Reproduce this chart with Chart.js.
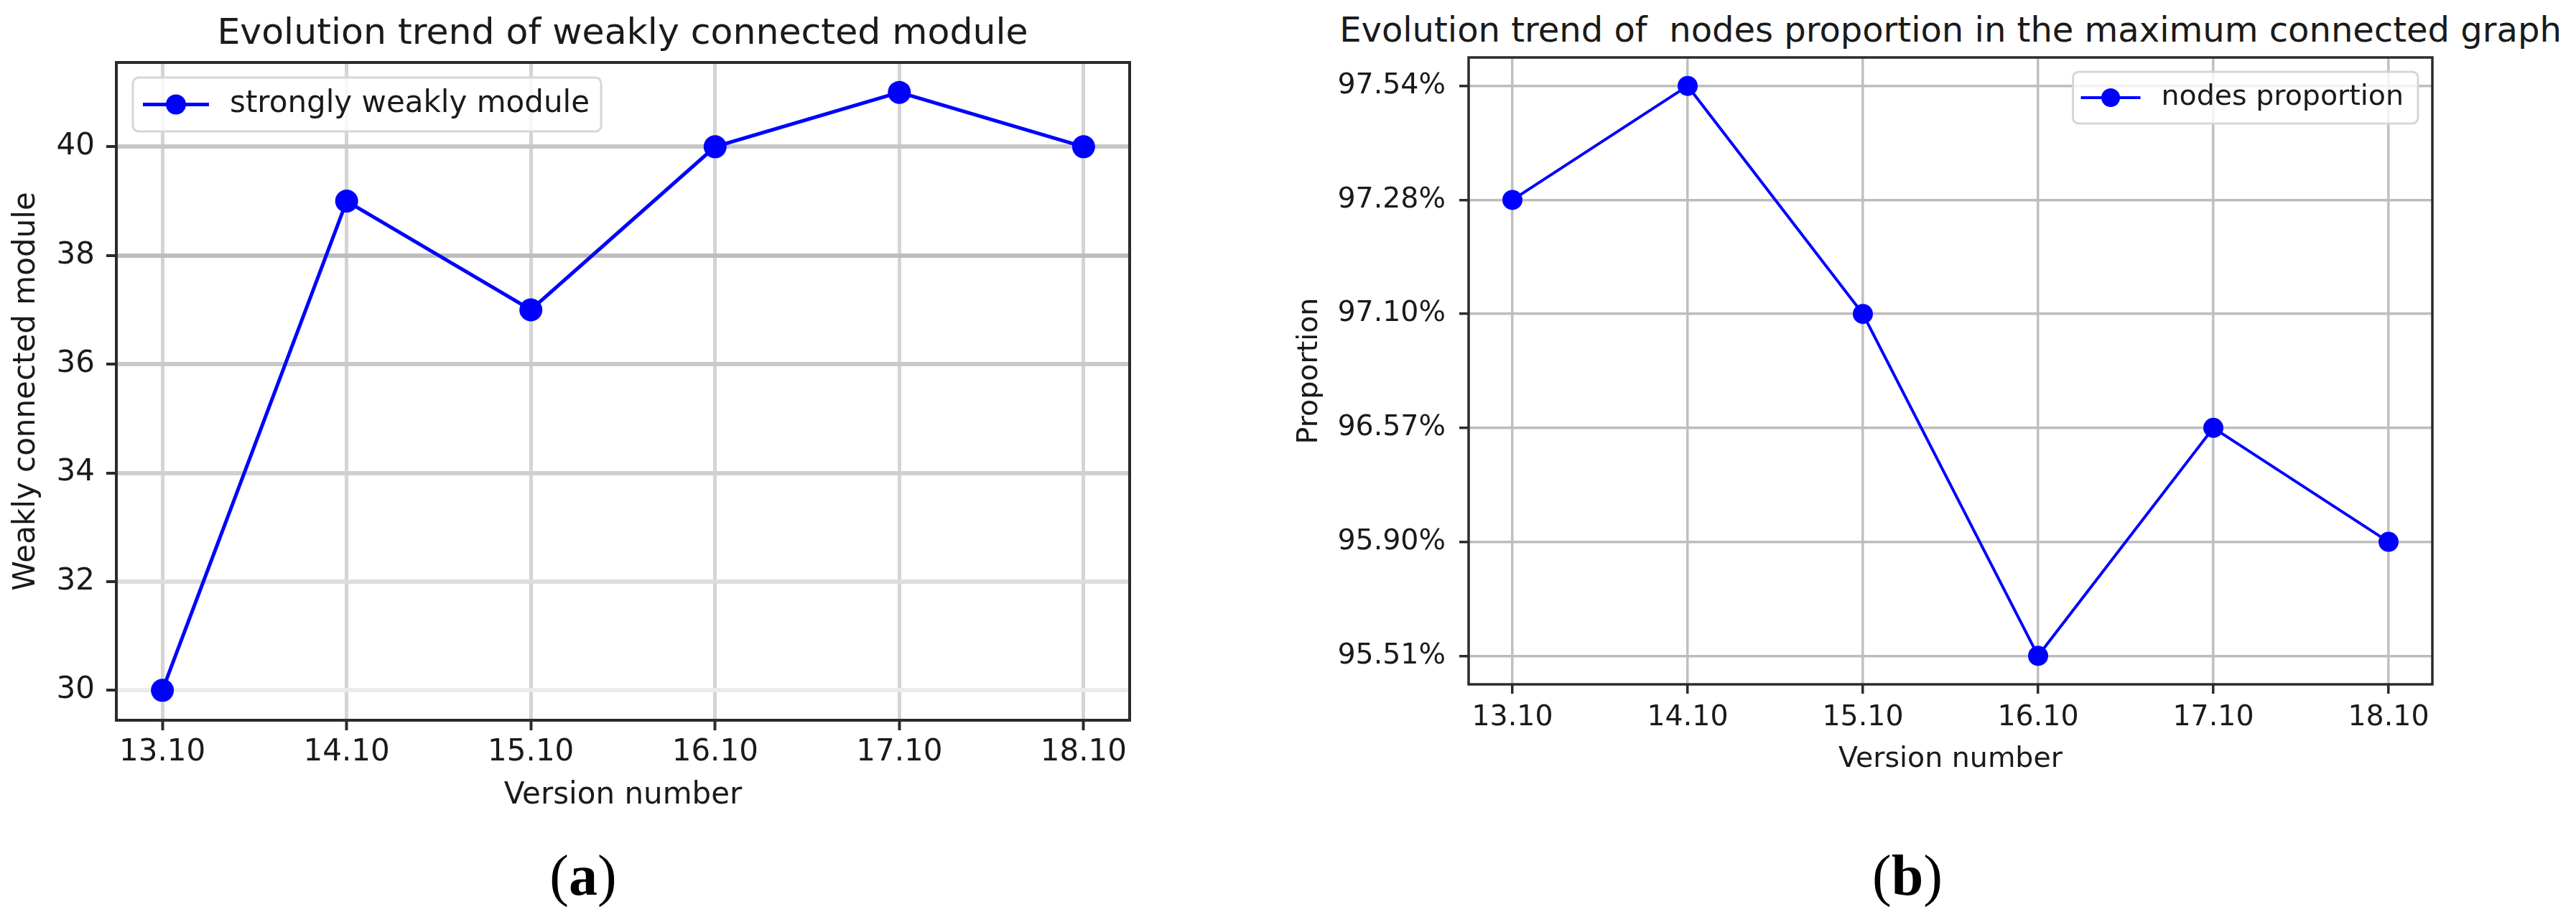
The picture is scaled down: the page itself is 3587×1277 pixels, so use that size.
<!DOCTYPE html>
<html lang="en">
<head>
<meta charset="utf-8">
<title>Evolution trend charts</title>
<script src="https://cdn.jsdelivr.net/npm/chart.js@4.4.1/dist/chart.umd.min.js"></script>
<style>
    html, body { margin: 0; padding: 0; background: #ffffff; }
    body { position: relative; width: 3587px; height: 1277px; overflow: hidden; font-family: "DejaVu Sans", sans-serif; color: #1a1a1a; }
    canvas { position: absolute; top: 0; }
    .chart-title { position: absolute; line-height: 1; white-space: pre; transform: translateX(-50%); }
    .panel-tag { position: absolute; font-family: "Liberation Serif", "Times New Roman", serif; font-size: 80px; line-height: 1; color: #000; transform: translateX(-50%); }
</style>
</head>
<body>
<div class="chart-title" style="left: 867px; top: 19px; font-size: 50.5px;">Evolution trend of weakly connected module</div>
<div class="chart-title" style="left: 2716px; top: 17px; font-size: 48px;">Evolution trend of  nodes proportion in the maximum connected graph</div>
<canvas id="weakChart" width="1720" height="1150" style="left: 0px;"></canvas>
<canvas id="propChart" width="1827" height="1100" style="left: 1760px;"></canvas>
<div class="panel-tag" style="left: 812px; top: 1179px;">(<b>a</b>)</div>
<div class="panel-tag" style="left: 2656px; top: 1179px;">(<b>b</b>)</div>
<script>
const versions = ['13.10', '14.10', '15.10', '16.10', '17.10', '18.10'];
const weaklyModules = [30, 39, 37, 40, 41, 40];
const weaklyTicks = [30, 32, 34, 36, 38, 40];
const nodesProportion = [97.28, 97.54, 97.10, 95.51, 96.57, 95.90];
// panel (b) puts its tick labels at equal steps, bottom to top
const proportionTicks = ['95.51%', '95.90%', '96.57%', '97.10%', '97.28%', '97.54%'];

Chart.defaults.font.family = '"DejaVu Sans", sans-serif';
Chart.defaults.color = '#1a1a1a';
Chart.defaults.animation = false;

const BLUE = '#0000ff';
const AXIS = '#2b2b2b';
const weakGridGray = ['#ebebeb', '#dddddd', '#d0d0d0', '#c9c9c9', '#bdbdbd', '#c6c6c6'];

function roundRect(ctx, x, y, w, h, r) {
    ctx.beginPath();
    ctx.moveTo(x + r, y);
    ctx.arcTo(x + w, y, x + w, y + h, r);
    ctx.arcTo(x + w, y + h, x, y + h, r);
    ctx.arcTo(x, y + h, x, y, r);
    ctx.arcTo(x, y, x + w, y, r);
    ctx.closePath();
}

// box round the plot area, like matplotlib spines
const frameBox = {
    id: 'frameBox',
    afterDatasetsDraw(chart, args, opts) {
        const { ctx, chartArea: a } = chart;
        ctx.save();
        ctx.strokeStyle = opts.color;
        ctx.lineWidth = opts.width;
        ctx.strokeRect(a.left, a.top, a.right - a.left, a.bottom - a.top);
        ctx.restore();
    }
};

// legend inside the plot with a line + marker handle
const innerLegend = {
    id: 'innerLegend',
    afterDatasetsDraw(chart, args, o) {
        const { ctx, chartArea: a } = chart;
        const ds = chart.data.datasets[0];
        ctx.save();
        ctx.font = o.size + 'px "DejaVu Sans"';
        const textW = ctx.measureText(ds.label).width;
        const boxW = o.padL + o.handle + o.gap + textW + o.padR;
        const x0 = o.align === 'right' ? a.right - o.offX - boxW : a.left + o.offX;
        const y0 = a.top + o.offY;
        const cy = y0 + o.height / 2;

        roundRect(ctx, x0, y0, boxW, o.height, 8);
        ctx.fillStyle = 'rgba(255,255,255,0.8)';
        ctx.fill();
        ctx.strokeStyle = '#d6d6d6';
        ctx.lineWidth = 3;
        ctx.stroke();

        const hx = x0 + o.padL;
        ctx.strokeStyle = ds.borderColor;
        ctx.lineWidth = ds.borderWidth;
        ctx.beginPath();
        ctx.moveTo(hx, cy);
        ctx.lineTo(hx + o.handle, cy);
        ctx.stroke();
        ctx.fillStyle = ds.backgroundColor;
        ctx.beginPath();
        ctx.arc(hx + o.handle / 2, cy, o.marker, 0, Math.PI * 2);
        ctx.fill();

        ctx.fillStyle = '#1a1a1a';
        ctx.textBaseline = 'middle';
        ctx.textAlign = 'left';
        ctx.fillText(ds.label, hx + o.handle + o.gap, cy);
        ctx.restore();
    }
};

// (a) weakly connected module
const weakCtx = document.getElementById('weakChart');

new Chart(weakCtx, {
    type: 'line',
    data: {
        datasets: [{
            label: 'strongly weakly module',
            data: weaklyModules.map((v, i) => ({ x: i, y: v })),
            borderColor: BLUE,
            backgroundColor: BLUE,
            borderWidth: 5,
            pointRadius: 16,
            pointBorderWidth: 0,
            tension: 0
        }]
    },
    options: {
        responsive: false,
        events: [],
        layout: { padding: { left: 0, top: 87, right: 147, bottom: 0 } },
        plugins: {
            legend: { display: false },
            tooltip: { enabled: false },
            innerLegend: { align: 'left', offX: 23, offY: 21, height: 75, padL: 14, handle: 92, gap: 29, padR: 16, size: 42, marker: 14 },
            frameBox: { color: AXIS, width: 4 }
        },
        scales: {
            x: {
                type: 'linear',
                min: -0.25,
                max: 5.25,
                bounds: 'data',
                afterBuildTicks: s => { s.ticks = versions.map((v, i) => ({ value: i })); },
                afterFit: s => { s.height = 147; },
                ticks: { callback: v => versions[v], font: { size: 42 }, color: '#1a1a1a', padding: 6, maxRotation: 0, autoSkip: false },
                grid: { color: '#d4d4d4', lineWidth: 5, tickLength: 14, tickColor: AXIS, tickWidth: 4 },
                border: { display: false },
                title: { display: true, text: 'Version number', font: { size: 42 }, color: '#1a1a1a', padding: { top: 0, bottom: 17 } }
            },
            y: {
                type: 'linear',
                min: 29.45,
                max: 41.55,
                bounds: 'data',
                afterBuildTicks: s => { s.ticks = weaklyTicks.map(v => ({ value: v })); },
                afterFit: s => { s.width = 162; },
                ticks: { font: { size: 42 }, color: '#1a1a1a', padding: 16, autoSkip: false },
                grid: { color: c => weakGridGray[c.index], lineWidth: 6, tickLength: 14, tickColor: AXIS, tickWidth: 4 },
                border: { display: false },
                title: { display: true, text: 'Weakly connected module', font: { size: 42 }, color: '#1a1a1a', padding: { top: 12, bottom: 0 } }
            }
        }
    },
    plugins: [innerLegend, frameBox]
});

// (b) nodes proportion in the maximum connected graph
const propCtx = document.getElementById('propChart');

new Chart(propCtx, {
    type: 'line',
    data: {
        datasets: [{
            label: 'nodes proportion',
            data: nodesProportion.map((v, i) => ({ x: i, y: proportionTicks.indexOf(v.toFixed(2) + '%') })),
            borderColor: BLUE,
            backgroundColor: BLUE,
            borderWidth: 4,
            pointRadius: 14,
            pointBorderWidth: 0,
            tension: 0
        }]
    },
    options: {
        responsive: false,
        events: [],
        layout: { padding: { left: 0, top: 80, right: 200, bottom: 0 } },
        plugins: {
            legend: { display: false },
            tooltip: { enabled: false },
            innerLegend: { align: 'right', offX: 20, offY: 20, height: 72, padL: 11, handle: 83, gap: 29, padR: 20, size: 39.5, marker: 13 },
            frameBox: { color: AXIS, width: 3.5 }
        },
        scales: {
            x: {
                type: 'linear',
                min: -0.25,
                max: 5.25,
                bounds: 'data',
                afterBuildTicks: s => { s.ticks = versions.map((v, i) => ({ value: i })); },
                afterFit: s => { s.height = 147; },
                ticks: { callback: v => versions[v], font: { size: 39.5 }, color: '#1a1a1a', padding: 10, maxRotation: 0, autoSkip: false },
                grid: { color: '#c0c0c0', lineWidth: 3.5, tickLength: 13, tickColor: AXIS, tickWidth: 3.5 },
                border: { display: false },
                title: { display: true, text: 'Version number', font: { size: 39.5 }, color: '#1a1a1a', padding: { top: 0, bottom: 19 } }
            },
            y: {
                type: 'linear',
                min: -0.25,
                max: 5.25,
                bounds: 'data',
                afterBuildTicks: s => { s.ticks = proportionTicks.map((t, i) => ({ value: i })); },
                afterFit: s => { s.width = 285; },
                ticks: { callback: v => proportionTicks[v], font: { size: 39.5 }, color: '#1a1a1a', padding: 19, autoSkip: false },
                grid: { color: '#bdbdbd', lineWidth: 3.5, tickLength: 13, tickColor: AXIS, tickWidth: 3.5 },
                border: { display: false },
                title: { display: true, text: 'Proportion', font: { size: 39.5 }, color: '#1a1a1a', padding: { top: 40, bottom: 0 } }
            }
        }
    },
    plugins: [innerLegend, frameBox]
});
</script>
</body>
</html>
